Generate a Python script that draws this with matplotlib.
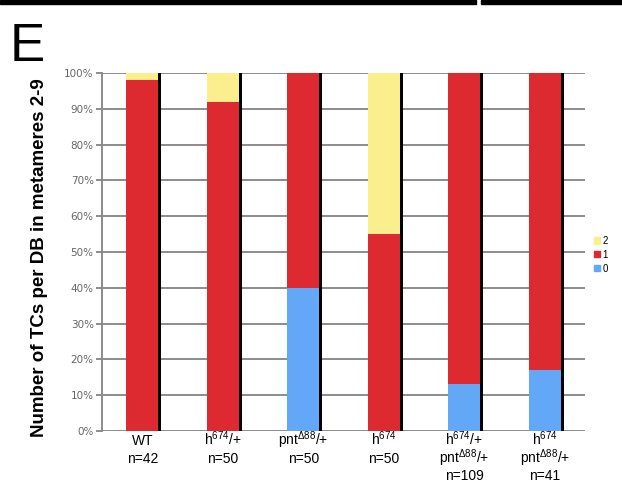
import numpy as np
import matplotlib.pyplot as plt
from matplotlib.patches import Patch, Rectangle

plt.rcParams['font.family'] = ['Liberation Sans', 'DejaVu Sans']
plt.rcParams['mathtext.default'] = 'regular'

# genotypes along the x axis, one string per label line
genotypes = [['WT', 'n=42'],
             ['h$^{674}$/+', 'n=50'],
             ['pnt$^{\u039488}$/+', 'n=50'],
             ['h$^{674}$', 'n=50'],
             ['h$^{674}$/+', 'pnt$^{\u039488}$/+', 'n=109'],
             ['h$^{674}$', 'pnt$^{\u039488}$/+', 'n=41']]

# percentage of DBs with 0, 1 or 2 TCs
pct_0 = [0, 0, 40, 0, 13, 17]
pct_1 = [98, 92, 60, 55, 87, 83]
pct_2 = [2, 8, 0, 45, 0, 0]

col_0 = '#62a8f6'
col_1 = '#dc2a30'
col_2 = '#fbee8c'

fig = plt.figure(figsize=(6.22, 4.9), dpi=100)
ax = fig.add_axes([0.164, 0.1204, 0.7765, 0.7306])

x = np.arange(len(genotypes))
w = 0.4
p0 = np.array(pct_0)
p1 = np.array(pct_1)
p2 = np.array(pct_2)

ax.bar(x, p0, width=w, color=col_0, zorder=3)
ax.bar(x, p1, width=w, bottom=p0, color=col_1, zorder=3)
ax.bar(x, p2, width=w, bottom=p0 + p1, color=col_2, zorder=3)
# dark shadow strip on the right of each stack
sw = 0.035
ax.bar(x + w / 2 + sw / 2, p0 + p1 + p2, width=sw, color='black', zorder=3)

ax.set_xlim(-0.5, len(genotypes) - 0.5)
ax.set_ylim(0, 100)
ax.set_yticks(np.arange(0, 101, 10))
ax.set_yticklabels([f'{v}%' for v in range(0, 101, 10)],
                   fontsize=7.5, color='#666666', family='DejaVu Sans')
ax.yaxis.grid(True, color='#8c8c8c', linewidth=1.4, zorder=0)
ax.tick_params(axis='y', length=4, width=1.4, color='#8c8c8c', pad=2)
ax.set_xticks(x)
ax.set_xticklabels([])
ax.tick_params(axis='x', length=0)

# category labels, each line on a fixed baseline
for xi, lines in zip(x, genotypes):
    for k, line in enumerate(lines):
        ax.annotate(line, (xi, 0), xycoords=('data', 'axes fraction'),
                    xytext=(0, -10.3 - 12.6 * k), textcoords='offset points',
                    ha='center', va='baseline', fontsize=10)

for s in ['top', 'right', 'bottom']:
    ax.spines[s].set_visible(False)
ax.spines['left'].set_color('#8c8c8c')
ax.spines['left'].set_linewidth(1.4)

fig.text(0.064, 0.475, 'Number of TCs per DB in metameres 2-9',
         rotation=90, ha='center', va='center', fontsize=13.5,
         fontweight='bold')

handles = [Patch(color=col_2, label='2'),
           Patch(color=col_1, label='1'),
           Patch(color=col_0, label='0')]
fig.legend(handles=handles, loc='center left',
           bbox_to_anchor=(0.955, 0.48), frameon=False, fontsize=7,
           handlelength=0.6, handleheight=0.6, handletextpad=0.3,
           labelspacing=0.4, borderaxespad=0, borderpad=0)

# panel letter and the border strips along the top
fig.text(0.016, 0.955, 'E', fontsize=38, ha='left', va='top')
fig.add_artist(Rectangle((0, 0.992), 0.765, 0.008, color='black',
                         transform=fig.transFigure))
fig.add_artist(Rectangle((0.773, 0.992), 0.227, 0.008, color='black',
                         transform=fig.transFigure))

fig.savefig('out.png', dpi=100)
